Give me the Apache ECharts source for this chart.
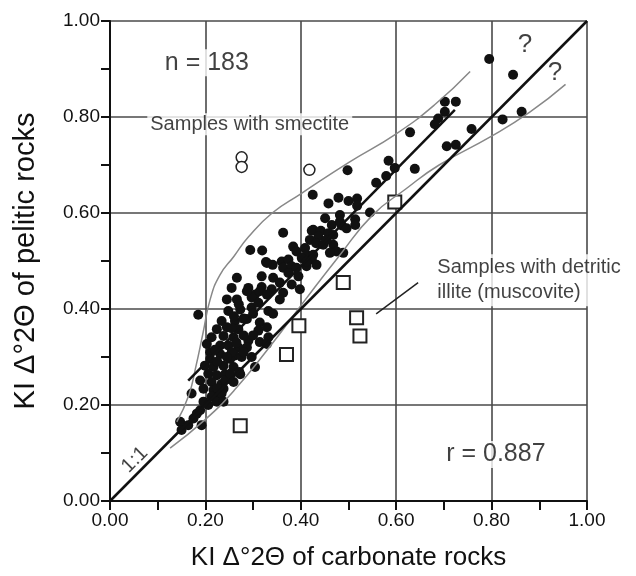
<!DOCTYPE html>
<html>
<head>
<meta charset="utf-8">
<script src="https://cdn.jsdelivr.net/npm/echarts@6/dist/echarts.min.js"></script>
<style>
html,body{margin:0;padding:0;background:#fff;}
#chart{width:636px;height:576px;}
</style>
</head>
<body>
<div id="chart"></div>
<script>
// KI of carbonate rocks (x) vs KI of pelitic rocks (y)
var samples=[
    [0.795,0.921],[0.845,0.888],[0.702,0.832],[0.725,0.832],[0.702,0.811],[0.688,0.797],[0.681,0.785],
    [0.863,0.811],[0.823,0.795],[0.758,0.775],[0.706,0.739],[0.725,0.742],
    [0.629,0.768],[0.584,0.709],[0.597,0.694],[0.639,0.692],[0.498,0.689],[0.579,0.677],[0.558,0.663],
    [0.425,0.638],[0.458,0.620],[0.479,0.632],[0.500,0.625],[0.518,0.630],[0.518,0.615],[0.545,0.601],
    [0.482,0.596],[0.451,0.589],[0.514,0.587],[0.465,0.575],[0.486,0.574],[0.426,0.565],
    [0.363,0.559],[0.423,0.563],[0.442,0.563],[0.437,0.551],[0.458,0.558],[0.419,0.544],[0.432,0.537],
    [0.447,0.534],[0.468,0.534],[0.475,0.520],[0.461,0.517],[0.489,0.517],[0.294,0.523],[0.319,0.522],
    [0.384,0.530],[0.391,0.520],[0.409,0.527],[0.412,0.513],[0.426,0.513],[0.402,0.506],[0.423,0.503],
    [0.327,0.498],[0.341,0.492],[0.360,0.499],[0.374,0.503],[0.363,0.486],[0.381,0.489],[0.391,0.486],
    [0.412,0.489],[0.433,0.492],[0.374,0.475],[0.395,0.468],[0.342,0.465],[0.318,0.468],[0.266,0.465],
    [0.356,0.455],[0.381,0.451],[0.290,0.444],[0.318,0.446],[0.339,0.441],[0.398,0.441],[0.363,0.434],
    [0.304,0.430],[0.255,0.444],
    [0.185,0.388],[0.245,0.420],[0.266,0.420],[0.297,0.424],[0.314,0.437],[0.329,0.430],[0.356,0.420],
    [0.248,0.396],[0.273,0.399],[0.297,0.403],[0.311,0.413],[0.332,0.396],[0.342,0.390],[0.234,0.375],
    [0.262,0.375],[0.287,0.379],[0.314,0.372],[0.224,0.358],[0.245,0.362],[0.269,0.358],[0.311,0.355],
    [0.329,0.362],[0.332,0.341],[0.213,0.341],[0.238,0.344],[0.259,0.341],[0.290,0.334],[0.314,0.331],
    [0.203,0.327],[0.231,0.324],[0.248,0.324],[0.269,0.320],[0.287,0.320],[0.210,0.310],[0.231,0.306],
    [0.262,0.303],[0.276,0.300],[0.297,0.300],[0.210,0.296],[0.252,0.296],[0.199,0.282],[0.217,0.279],
    [0.238,0.282],[0.259,0.279],[0.304,0.279],[0.206,0.265],[0.224,0.262],[0.241,0.264],[0.273,0.264],
    [0.189,0.251],[0.213,0.248],[0.234,0.244],[0.259,0.248],[0.196,0.234],[0.217,0.231],[0.238,0.234],
    [0.171,0.224],[0.231,0.220],
    [0.271,0.269],[0.329,0.327],[0.287,0.437],[0.329,0.496],[0.412,0.499],
    [0.147,0.165],[0.150,0.148],[0.164,0.158],[0.175,0.172],[0.182,0.182],[0.192,0.158],[0.189,0.189],
    [0.196,0.207],[0.206,0.200],[0.213,0.217],[0.224,0.207],[0.234,0.224],[0.238,0.207],
    [0.454,0.544],[0.468,0.554],[0.482,0.582],[0.496,0.568],[0.514,0.575],
    [0.255,0.310],[0.245,0.300],[0.280,0.345],[0.265,0.330],[0.225,0.290],[0.255,0.360],[0.280,0.380],
    [0.300,0.390],[0.270,0.410],[0.260,0.385],[0.220,0.315],[0.242,0.252],[0.252,0.265],[0.225,0.235],
    [0.280,0.310],[0.300,0.345]
];
var smectite=[[0.276,0.716],[0.276,0.696],[0.418,0.690]];
var detritic=[[0.273,0.157],[0.370,0.305],[0.396,0.365],[0.489,0.455],[0.517,0.382],[0.524,0.344],[0.597,0.623]];
var oneToOne=[[0,0],[1,1]];
var fitLine=[[0.164,0.251],[0.723,0.815]];
var upperEnv=[[0.14,0.165],[0.165,0.22],[0.18,0.28],[0.195,0.35],[0.21,0.42],[0.23,0.47],[0.26,0.51],
    [0.29,0.55],[0.34,0.60],[0.40,0.64],[0.50,0.705],[0.60,0.765],[0.68,0.825],[0.755,0.895]];
var lowerEnv=[[0.126,0.11],[0.20,0.17],[0.26,0.23],[0.33,0.315],[0.41,0.42],[0.48,0.51],[0.55,0.595],
    [0.62,0.65],[0.69,0.70],[0.80,0.76],[0.88,0.81],[0.955,0.868]];
var leader=[[0.646,0.455],[0.558,0.390]];
var ticks=[0,0.2,0.4,0.6,0.8,1.0];

var font='"Liberation Sans", Arial, sans-serif';
var chart=echarts.init(document.getElementById("chart"));

function axis(name,gap,size){
    return {
        type:'value',min:0,max:1,interval:0.2,
        name:name,nameLocation:'middle',nameGap:gap,
        nameTextStyle:{fontSize:size,color:'#111',fontFamily:font},
        axisLine:{lineStyle:{color:'#111',width:2}},
        axisTick:{show:true,length:9,lineStyle:{color:'#111',width:2}},
        minorTick:{show:true,splitNumber:2,length:9,lineStyle:{color:'#111',width:2}},
        splitLine:{show:true,lineStyle:{color:'#4a4a4a',width:1.6}},
        axisLabel:{fontSize:19,color:'#111',fontFamily:font,margin:10,
            formatter:function(v){return ticks.indexOf(Math.round(v*10)/10)>=0?v.toFixed(2):'';}}
    };
}

function note(pos,text,size,extra){
    var lbl={show:true,formatter:text,position:'inside',fontSize:size,color:'#111',fontFamily:font,
        backgroundColor:'#fff',padding:[1,3]};
    for(var k in extra){lbl[k]=extra[k];}
    return {type:'scatter',silent:true,symbolSize:0,clip:false,z:5,data:[pos],label:lbl};
}

var option={
    animation:false,
    grid:{left:110,right:49,top:21,bottom:71},
    xAxis:axis('KI \u0394\u00b02\u0398 of carbonate rocks',44,26),
    yAxis:axis('KI \u0394\u00b02\u0398 of pelitic rocks',70,29),
    series:[
        {type:'line',data:lowerEnv,smooth:true,showSymbol:false,silent:true,lineStyle:{color:'#888',width:1.5}},
        {type:'line',data:upperEnv,smooth:true,showSymbol:false,silent:true,lineStyle:{color:'#888',width:1.5}},
        {type:'line',data:oneToOne,showSymbol:false,silent:true,lineStyle:{color:'#111',width:2.5}},
        {type:'line',data:fitLine,showSymbol:false,silent:true,lineStyle:{color:'#111',width:2.5}},
        {type:'line',data:leader,showSymbol:false,silent:true,lineStyle:{color:'#222',width:1.5}},
        {type:'scatter',data:samples,symbol:'circle',symbolSize:10,itemStyle:{color:'#111',opacity:1}},
        {type:'scatter',data:smectite,symbol:'circle',symbolSize:11,
            itemStyle:{color:'#fff',borderColor:'#222',borderWidth:1.5,opacity:1}},
        {type:'scatter',data:detritic,symbol:'rect',symbolSize:13,
            itemStyle:{color:'#fff',borderColor:'#222',borderWidth:2,opacity:1}},
        note([0.203,0.913],'n = 183',25),
        note([0.293,0.785],'Samples with smectite',20),
        note([0.68,0.46],'Samples with detritic\nillite (muscovite)',20,{position:'right',distance:0,lineHeight:25,align:'left'}),
        note([0.809,0.097],'r = 0.887',25),
        note([0.870,0.950],'?',26,{backgroundColor:'transparent'}),
        note([0.933,0.893],'?',26,{backgroundColor:'transparent'}),
        note([0.052,0.086],'1:1',20,{rotate:45,backgroundColor:'transparent'})
    ]
};
chart.setOption(option);
</script>
</body>
</html>
